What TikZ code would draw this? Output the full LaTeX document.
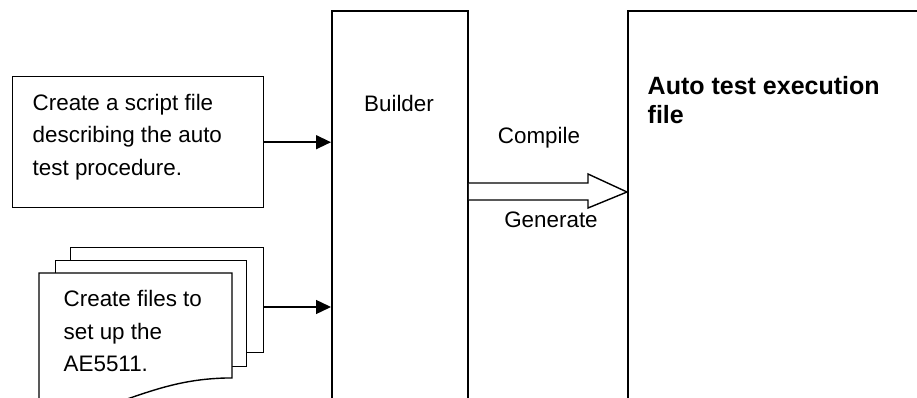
\documentclass[tikz,border=0pt]{standalone}
\usepackage{fontspec}
\setmainfont{Liberation Sans}
\usetikzlibrary{arrows.meta,calc}
\begin{document}
\begin{tikzpicture}[x=1pt,y=-1pt,line width=1.4pt,line join=miter,
  box/.style={draw,fill=white,rectangle,inner sep=0pt,anchor=north west},
  column/.style={box,line width=1.8pt},
  lbl/.style={font=\fontsize{22.4}{32.5}\selectfont,inner sep=0pt,align=left},
  feed/.style={-{Triangle[length=15pt,width=14pt]},line width=1.4pt}]
\useasboundingbox (0,0) rectangle (917,398);
\clip (0,0) rectangle (917,398);

% tall process columns (open at the bottom / right)
\node[column,minimum width=136pt,minimum height=420pt] (builder) at (331,10) {};
\node[column,minimum width=330pt,minimum height=420pt] (output) at (627,10) {};

% script file box
\node[box,minimum width=251pt,minimum height=131pt] (script) at (12,76) {};

% stacked set-up documents
\node[box,minimum width=193pt,minimum height=105pt] (page3) at (70,247) {};
\node[box,minimum width=191pt,minimum height=106pt] (page2) at (55,260) {};
\draw[fill=white] (39,273) -- (232,273) -- (232,378) -- (226,378)
  .. controls (190,379) and (165,386) .. (133,397)
  .. controls (110,405) and (80,412) .. (39,412) -- cycle;

% labels
\node[lbl] (builderlbl) at (399,103) {Builder};
\node[lbl] (compile) at (539,138) {Compile};
\node[lbl] (generate) at (551,220) {Generate};
\node[lbl,anchor=west] (scripttext) at (32,137) {Create a script file\\describing the auto\\test procedure.};
\node[lbl,anchor=west] (setuptext) at (63,331) {Create files to\\set up the\\AE5511.};
\node[lbl,anchor=west,font=\fontsize{25}{29}\selectfont\bfseries] (outtext) at (647,100) {Auto test execution\\file};

% inputs into the builder
\draw[feed] (script.east) -- (script.east -| builder.west);
\coordinate (docs) at (263,307);
\draw[feed] (docs) -- (docs -| builder.west);

% hollow block arrow: builder -> execution file
\draw[fill=white,line width=1.4pt] (builder.east |- 0,183) -- (588,183) -- (588,174)
  -- (output.west |- 0,192) -- (588,208) -- (588,200) -- (builder.east |- 0,200);
\end{tikzpicture}
\end{document}
